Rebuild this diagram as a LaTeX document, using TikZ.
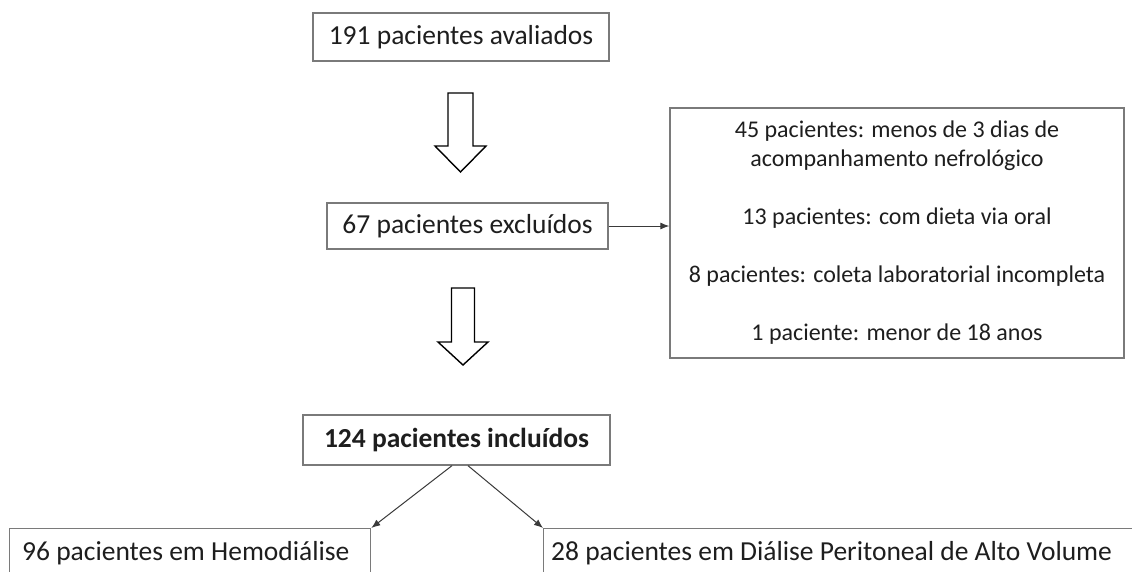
\documentclass[tikz,border=0pt]{standalone}
\usepackage{fontspec}
\setmainfont{Carlito}
\usetikzlibrary{arrows.meta,calc}
\definecolor{boxline}{HTML}{7A7A7A}
\definecolor{txt}{HTML}{1E1E1E}
\definecolor{conn}{HTML}{3A3A3A}
\tikzset{
  box/.style={draw=boxline, line width=1.3pt, fill=white, inner sep=0pt,
    text=txt, font=\fontsize{27.5}{33}\selectfont},
  listbox/.style={box, align=center, font=\fontsize{24}{29}\selectfont},
  connector/.style={draw=conn, line width=1pt,
    -{Latex[length=9pt,width=7pt]}},
  blockarrow/.style={draw=black, line width=1.4pt, fill=white, line join=miter},
}
\begin{document}
\begin{tikzpicture}[x=1pt, y=-1pt]
\useasboundingbox (0,0) rectangle (1132,571);
\clip (0,0) rectangle (1132,571);
\fill[white] (0,0) rectangle (1132,571);

% boxes of the flow
\node[box, minimum width=296, minimum height=48] (aval) at (461,37) {191 pacientes avaliados};
\node[box, minimum width=281, minimum height=46] (excl) at (467.5,226) {67 pacientes excluídos};
\node[listbox, minimum width=454, minimum height=250] (motivos) at (897,233)
  {45 pacientes: menos de 3 dias de\\
   acompanhamento nefrológico\\[29pt]
   13 pacientes: com dieta via oral\\[29pt]
   8 pacientes: coleta laboratorial incompleta\\[29pt]
   1 paciente: menor de 18 anos};
\node[box, minimum width=307, minimum height=50, font=\fontsize{27.5}{33}\selectfont\bfseries]
  (incl) at (456.5,440) {124 pacientes incluídos};

% the two groups, open at the lower edge
\node[box, minimum width=361, minimum height=90, anchor=north west] (hd) at (9,528) {};
\node[text=txt, font=\fontsize{27.5}{33}\selectfont, anchor=west, inner sep=0pt]
  (hdtxt) at (22,553) {96 pacientes em Hemodiálise};
\node[box, minimum width=640, minimum height=90, anchor=north west] (dp) at (543,528) {};
\node[text=txt, font=\fontsize{27.5}{33}\selectfont, anchor=west, inner sep=0pt]
  (dptxt) at (551,553) {28 pacientes em Diálise Peritoneal de Alto Volume};

% block arrows
\coordinate (a1) at (460.5,93);
\draw[blockarrow] ($(a1)+(-12.5,0)$) -- ($(a1)+(12.5,0)$) -- ($(a1)+(12.5,53)$)
  -- ($(a1)+(25.5,53)$) -- ($(a1)+(0,79)$) -- ($(a1)+(-25.5,53)$)
  -- ($(a1)+(-12.5,53)$) -- cycle;
\coordinate (a2) at (463,288);
\draw[blockarrow] ($(a2)+(-11.5,0)$) -- ($(a2)+(11.5,0)$) -- ($(a2)+(11.5,54)$)
  -- ($(a2)+(25,54)$) -- ($(a2)+(0,77)$) -- ($(a2)+(-25,54)$)
  -- ($(a2)+(-11.5,54)$) -- cycle;

% connectors
\draw[connector] (excl.east) -- (excl.east -| motivos.west);
\draw[connector] ([xshift=-4.5]incl.south) -- (hd.north east);
\draw[connector] ([xshift=11.5]incl.south) -- (dp.north west);
\end{tikzpicture}
\end{document}
